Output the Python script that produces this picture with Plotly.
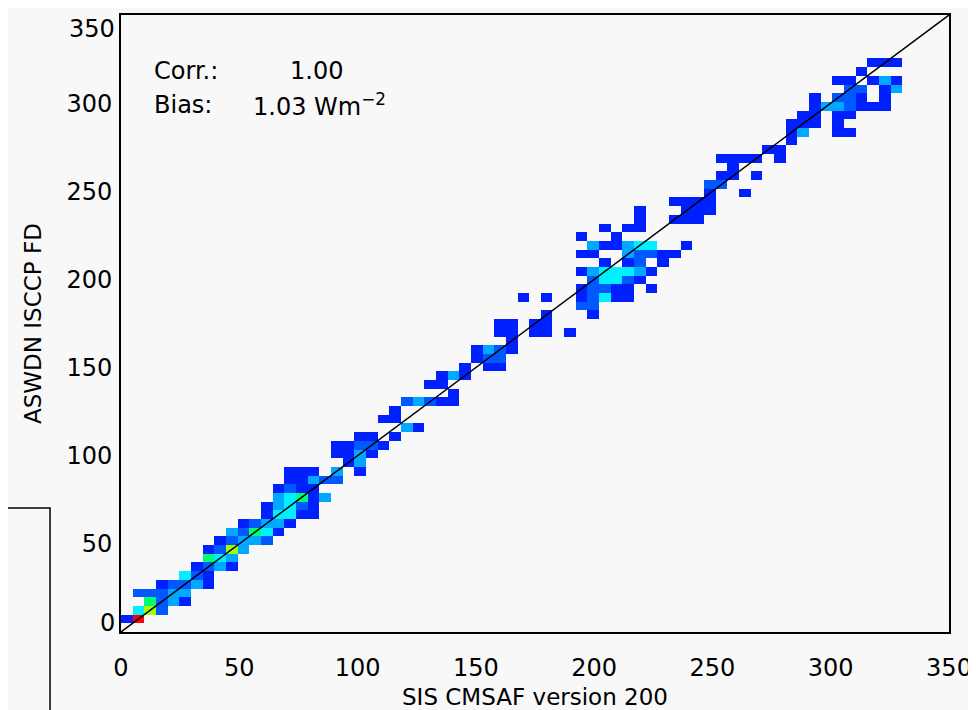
import plotly.graph_objects as go

# ---------------- data ----------------
axis_max = 350
n_bins = 71                      # histogram bins per axis
tick_vals = [0, 50, 100, 150, 200, 250, 300, 350]
y_inner_ticks = [50, 100, 150, 200, 250, 300]
x_title = "SIS CMSAF version 200"
y_title = "ASWDN ISCCP FD"
corr_text = "1.00"
bias_text = "1.03 Wm<sup>\u22122</sup>"

# cells (x-bin index, y-bin index, density level 1..8)
cells_low = [
    (0, 1, 1), (1, 1, 8),
    (1, 2, 4), (2, 2, 6), (3, 2, 2),
    (2, 3, 5), (3, 3, 2), (4, 3, 3), (5, 3, 1),
    (1, 4, 2), (2, 4, 2), (3, 4, 2), (4, 4, 3), (5, 4, 3),
    (3, 5, 1), (4, 5, 2), (5, 5, 2), (6, 5, 3), (7, 5, 1),
    (5, 6, 4), (6, 6, 2), (7, 6, 1),
    (6, 7, 1), (7, 7, 2), (8, 7, 3), (9, 7, 1),
    (7, 8, 5), (8, 8, 4), (9, 8, 3),
    (7, 9, 1), (8, 9, 2), (9, 9, 6), (10, 9, 3),
    (8, 10, 1), (9, 10, 2), (10, 10, 3), (11, 10, 3), (12, 10, 2),
    (9, 11, 3), (10, 11, 2), (11, 11, 5), (12, 11, 4), (13, 11, 1),
    (10, 12, 1), (11, 12, 2), (12, 12, 3), (13, 12, 3), (14, 12, 1),
    (12, 13, 1), (13, 13, 4), (14, 13, 4), (15, 13, 1), (16, 13, 1),
    (12, 14, 1), (13, 14, 3), (14, 14, 4), (15, 14, 2), (16, 14, 1),
]
cells_mid = [
    (13, 15, 3), (14, 15, 4), (15, 15, 5), (16, 15, 1), (17, 15, 3),
    (13, 16, 1), (14, 16, 2), (15, 16, 1), (16, 16, 1),
    (14, 17, 1), (15, 17, 1), (16, 17, 3), (17, 17, 2), (18, 17, 2),
    (14, 18, 1), (15, 18, 1), (16, 18, 1), (18, 18, 3), (20, 18, 1),
    (19, 19, 1), (20, 19, 3),
    (18, 20, 1), (19, 20, 1), (20, 20, 3), (21, 20, 1),
    (18, 21, 1), (19, 21, 1), (20, 21, 2), (21, 21, 2), (22, 21, 1),
    (20, 22, 1), (21, 22, 1), (23, 22, 1),
    (24, 23, 3), (25, 23, 1),
    (22, 24, 1), (23, 24, 1),
    (23, 25, 1),
    (24, 26, 2), (25, 26, 3), (26, 26, 2), (27, 26, 1), (28, 26, 1),
    (28, 27, 1),
    (26, 28, 1), (27, 28, 1),
    (27, 29, 1), (28, 29, 3), (29, 29, 1),
    (29, 30, 1), (31, 30, 1), (32, 30, 1),
    (30, 31, 1), (31, 31, 2), (32, 31, 2),
    (30, 32, 1), (31, 32, 3), (32, 32, 2), (33, 32, 1),
    (33, 33, 1),
    (32, 34, 1), (33, 34, 1), (35, 34, 1), (36, 34, 1), (38, 34, 1),
    (32, 35, 1), (33, 35, 1), (35, 35, 1), (36, 35, 1),
    (36, 36, 1),
    (34, 38, 1), (36, 38, 1),
]
cells_200 = [
    (40, 36, 1),
    (39, 37, 2), (40, 37, 2),
    (39, 38, 1), (40, 38, 2), (41, 38, 4), (42, 38, 1), (43, 38, 1),
    (39, 39, 1), (40, 39, 2), (41, 39, 2), (42, 39, 1), (43, 39, 1), (45, 39, 1),
    (40, 40, 2), (41, 40, 4), (42, 40, 4), (43, 40, 2), (44, 40, 1),
    (39, 41, 1), (40, 41, 3), (41, 41, 4), (42, 41, 4), (43, 41, 4), (44, 41, 3), (45, 41, 1),
    (41, 42, 1), (43, 42, 1), (44, 42, 2), (46, 42, 1),
    (39, 43, 1), (40, 43, 1), (43, 43, 3), (44, 43, 2), (45, 43, 2), (46, 43, 1), (47, 43, 1),
    (40, 44, 3), (41, 44, 1), (42, 44, 1), (43, 44, 3), (44, 44, 4), (45, 44, 4), (48, 44, 1),
    (39, 45, 1), (42, 45, 1),
    (41, 46, 1), (43, 46, 1), (44, 46, 1),
    (44, 47, 1), (47, 47, 1), (48, 47, 1), (49, 47, 1),
    (44, 48, 1), (48, 48, 1), (49, 48, 1), (50, 48, 1),
    (47, 49, 1), (48, 49, 1), (49, 49, 1), (50, 49, 1),
    (50, 50, 1), (53, 50, 1),
]
cells_high = [
    (50, 51, 2), (51, 51, 2),
    (51, 52, 1), (52, 52, 1), (54, 52, 1),
    (52, 53, 1),
    (51, 54, 1), (52, 54, 1), (53, 54, 1), (54, 54, 1), (56, 54, 1),
    (55, 55, 1), (56, 55, 1),
    (57, 56, 1),
    (57, 57, 1), (58, 57, 3), (61, 57, 1), (62, 57, 1),
    (57, 58, 1), (58, 58, 1), (59, 58, 1), (61, 58, 1),
    (58, 59, 1), (59, 59, 1), (61, 59, 1), (62, 59, 1),
    (59, 60, 1), (60, 60, 3), (61, 60, 3), (62, 60, 2), (63, 60, 1), (64, 60, 1), (65, 60, 1),
    (59, 61, 1), (61, 61, 2), (62, 61, 2), (63, 61, 1), (65, 61, 1),
    (62, 62, 2), (63, 62, 2), (65, 62, 1), (66, 62, 3),
    (61, 63, 1), (62, 63, 1), (64, 63, 1), (65, 63, 3), (66, 63, 1),
    (63, 64, 1),
    (64, 65, 1), (65, 65, 1), (66, 65, 1),
]

level_colors = ["#0020ff", "#0058ff", "#00a8ff", "#00f0ff",
                "#00ff70", "#a8ff00", "#ffd000", "#ff0000"]

# ---------------- build ----------------
bw = axis_max / n_bins
z = [[None] * n_bins for _ in range(n_bins)]
for group in (cells_low, cells_mid, cells_200, cells_high):
    for i, j, lev in group:
        z[j][i] = lev

nl = len(level_colors)
cscale = []
for k, c in enumerate(level_colors):
    cscale.append([k / nl, c])
    cscale.append([(k + 1) / nl, c])

fig = go.Figure()
fig.add_trace(go.Heatmap(
    z=z, x0=bw / 2, dx=bw, y0=bw / 2, dy=bw,
    colorscale=cscale, zmin=0.5, zmax=nl + 0.5,
    showscale=False, hoverinfo="skip",
))
diag = [0, axis_max]
fig.add_trace(go.Scatter(x=diag, y=diag, mode="lines",
                         line=dict(color="black", width=1.5),
                         hoverinfo="skip", showlegend=False))

font_family = "DejaVu Sans"
tick_font = dict(family=font_family, size=24, color="black")
axis_common = dict(
    range=[0, axis_max],
    showgrid=False, zeroline=False, showline=True, linecolor="black",
    linewidth=2, mirror=True, ticks="", ticklen=0, automargin=False,
    ticklabeloverflow="allow", tickfont=tick_font,
)
fig.update_xaxes(**axis_common, tickvals=tick_vals,
                 ticktext=[str(v) for v in tick_vals], ticklabelstandoff=13,
                 title=dict(text=x_title, standoff=18,
                            font=dict(family=font_family, size=23, color="black")))
fig.update_yaxes(**axis_common, tickvals=y_inner_ticks,
                 ticktext=[str(v) for v in y_inner_ticks], ticklabelstandoff=2,
                 title=dict(text=y_title, standoff=18,
                            font=dict(family=font_family, size=23, color="black")))

# end labels of the y axis sit inside the axis span, as in the original
fig.add_annotation(xref="paper", x=0, y=tick_vals[-1], text=str(tick_vals[-1]),
                   showarrow=False, xanchor="right", yanchor="top",
                   xshift=-4, yshift=2, font=tick_font)
fig.add_annotation(xref="paper", x=0, y=tick_vals[0], text=str(tick_vals[0]),
                   showarrow=False, xanchor="right", yanchor="bottom",
                   xshift=-4, yshift=-7, font=tick_font)

ann_font = dict(family=font_family, size=24, color="black")
fig.add_annotation(x=13, y=318, text="Corr.:", showarrow=False,
                   xanchor="left", yanchor="middle", font=ann_font)
fig.add_annotation(x=70.5, y=318, text=corr_text, showarrow=False,
                   xanchor="left", yanchor="middle", font=ann_font)
fig.add_annotation(x=13, y=299, text="Bias:", showarrow=False,
                   xanchor="left", yanchor="middle", font=ann_font)
fig.add_annotation(x=55, y=299, text=bias_text, showarrow=False,
                   xanchor="left", yanchor="middle", font=ann_font)

# neighbouring panel frame fragment at bottom-left
fig.add_shape(type="path", xref="paper", yref="paper",
              path="M -0.15,0.201 L -0.0857,0.201 L -0.0857,-0.2",
              line=dict(color="black", width=1.5))

# page body adds an 8px offset, so the figure is 8px smaller on each axis
fig.update_layout(
    width=968, height=702,
    margin=dict(l=113, r=27, t=7, b=78),
    paper_bgcolor="#f8f8f8", plot_bgcolor="#f8f8f8",
    showlegend=False,
)

fig.write_html("out.html")
